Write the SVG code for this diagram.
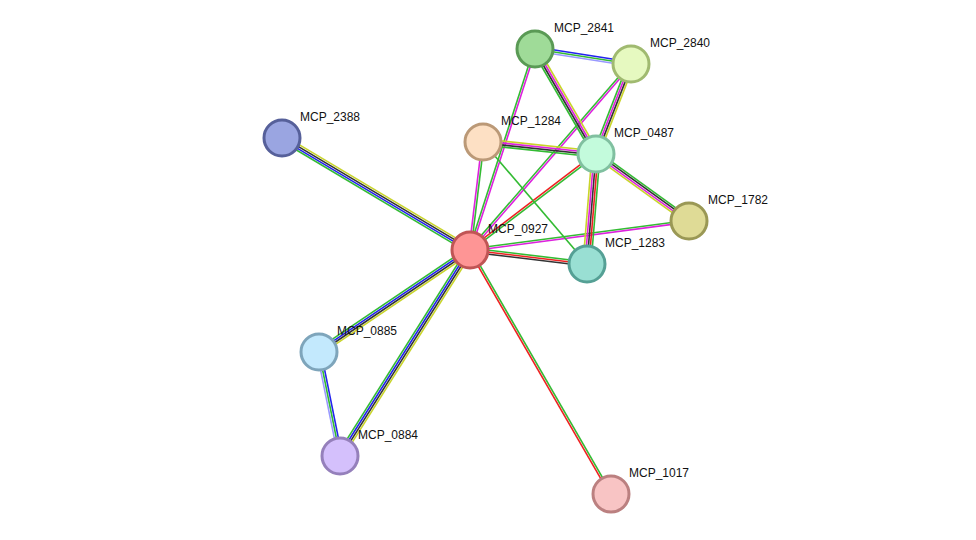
<svg xmlns="http://www.w3.org/2000/svg" width="976" height="540" viewBox="0 0 976 540">
<style>
line{stroke-width:1.6}
.y{stroke:#c8d42a}.k{stroke:#333}.b{stroke:#2222ee}.g{stroke:#33bb33}.r{stroke:#ee2222}.m{stroke:#dd22dd}.lb{stroke:#9999ff}
circle{stroke-width:3}
text{font-family:"Liberation Sans",Arial,sans-serif;font-size:12px;fill:#111}
</style>
<rect width="976" height="540" fill="#fff"/>
<g id="connectors">
<g transform="translate(470,250) rotate(210.8)"><line x2="218.8" y1="-3" y2="-3" class="g"/><line x2="218.8" y1="-1" y2="-1" class="b"/><line x2="218.8" y1="1" y2="1" class="k"/><line x2="218.8" y1="3" y2="3" class="y"/></g>
<g transform="translate(470,250) rotate(146)"><line x2="182.2" y1="-3" y2="-3" class="y"/><line x2="182.2" y1="-1" y2="-1" class="k"/><line x2="182.2" y1="1" y2="1" class="b"/><line x2="182.2" y1="3" y2="3" class="g"/></g>
<g transform="translate(470,250) rotate(122.25)"><line x2="243.6" y1="-3" y2="-3" class="y"/><line x2="243.6" y1="-1" y2="-1" class="k"/><line x2="243.6" y1="1" y2="1" class="b"/><line x2="243.6" y1="3" y2="3" class="g"/></g>
<g transform="translate(319,352) rotate(78.6)"><line x2="106.1" y1="-2" y2="-2" class="b"/><line x2="106.1" class="g"/><line x2="106.1" y1="2" y2="2" class="lb"/></g>
<g transform="translate(470,250) rotate(60)"><line x2="281.8" y1="-1" y2="-1" class="g"/><line x2="281.8" y1="1" y2="1" class="r"/></g>
<g transform="translate(470,250) rotate(6.8)"><line x2="117.8" y1="-2" y2="-2" class="g"/><line x2="117.8" class="r"/><line x2="117.8" y1="2" y2="2" class="k"/></g>
<g transform="translate(470,250) rotate(-7.5)"><line x2="220.9" y1="-1" y2="-1" class="g"/><line x2="220.9" y1="1" y2="1" class="m"/></g>
<g transform="translate(470,250) rotate(-37.3)"><line x2="158.4" y1="-1" y2="-1" class="r"/><line x2="158.4" y1="1" y2="1" class="g"/></g>
<g transform="translate(470,250) rotate(-49.1)"><line x2="246" y1="-1" y2="-1" class="g"/><line x2="246" y1="1" y2="1" class="m"/></g>
<g transform="translate(470,250) rotate(-72.1)"><line x2="211.2" y1="-1" y2="-1" class="g"/><line x2="211.2" y1="1" y2="1" class="m"/></g>
<g transform="translate(470,250) rotate(-83.1)"><line x2="108.8" y1="-1" y2="-1" class="m"/><line x2="108.8" y1="1" y2="1" class="g"/></g>
<g transform="translate(483,142) rotate(49.55)"><line x2="160.3" class="g"/></g>
<g transform="translate(483,142) rotate(6.06)"><line x2="113.6" y1="-3" y2="-3" class="y"/><line x2="113.6" y1="-1" y2="-1" class="m"/><line x2="113.6" y1="1" y2="1" class="k"/><line x2="113.6" y1="3" y2="3" class="g"/></g>
<g transform="translate(535,49) rotate(8.9)"><line x2="97.2" y1="-2" y2="-2" class="b"/><line x2="97.2" class="g"/><line x2="97.2" y1="2" y2="2" class="lb"/></g>
<g transform="translate(535,49) rotate(59.85)"><line x2="121.4" y1="-3" y2="-3" class="y"/><line x2="121.4" y1="-1" y2="-1" class="m"/><line x2="121.4" y1="1" y2="1" class="k"/><line x2="121.4" y1="3" y2="3" class="g"/></g>
<g transform="translate(631,64) rotate(111.25)"><line x2="96.6" y1="-3" y2="-3" class="y"/><line x2="96.6" y1="-1" y2="-1" class="k"/><line x2="96.6" y1="1" y2="1" class="m"/><line x2="96.6" y1="3" y2="3" class="g"/></g>
<g transform="translate(596,154) rotate(35.8)"><line x2="114.6" y1="-3" y2="-3" class="g"/><line x2="114.6" y1="-1" y2="-1" class="k"/><line x2="114.6" y1="1" y2="1" class="m"/><line x2="114.6" y1="3" y2="3" class="y"/></g>
<g transform="translate(596,154) rotate(94.7)"><line x2="110.4" y1="-4" y2="-4" class="g"/><line x2="110.4" y1="-2" y2="-2" class="r"/><line x2="110.4" class="k"/><line x2="110.4" y1="2" y2="2" class="m"/><line x2="110.4" y1="4" y2="4" class="y"/></g>
</g>
<g id="MCP_0927"><circle cx="470" cy="250" r="18" fill="#fe9595" stroke="#c05555"/><text x="488" y="233">MCP_0927</text></g>
<g id="MCP_2841"><circle cx="535" cy="49" r="18" fill="#9fdb98" stroke="#5a9a55"/><text x="554" y="32">MCP_2841</text></g>
<g id="MCP_2840"><circle cx="631" cy="64" r="18" fill="#e6f9c0" stroke="#a0ba70"/><text x="650" y="47">MCP_2840</text></g>
<g id="MCP_1284"><circle cx="483" cy="142" r="18" fill="#fde0c4" stroke="#bb9977"/><text x="501" y="125">MCP_1284</text></g>
<g id="MCP_0487"><circle cx="596" cy="154" r="18" fill="#c3fbdc" stroke="#80c0a0"/><text x="614" y="137">MCP_0487</text></g>
<g id="MCP_1782"><circle cx="689" cy="221" r="18" fill="#dfdb96" stroke="#9a9855"/><text x="708" y="204">MCP_1782</text></g>
<g id="MCP_1283"><circle cx="587" cy="264" r="18" fill="#99dfd3" stroke="#55a095"/><text x="605" y="247">MCP_1283</text></g>
<g id="MCP_2388"><circle cx="282" cy="138" r="18" fill="#9aa5e1" stroke="#56609a"/><text x="300" y="121">MCP_2388</text></g>
<g id="MCP_0885"><circle cx="319" cy="352" r="18" fill="#c3e9fd" stroke="#7ea5bb"/><text x="337" y="335">MCP_0885</text></g>
<g id="MCP_0884"><circle cx="340" cy="456" r="18" fill="#d4c0fc" stroke="#9580bb"/><text x="358" y="439">MCP_0884</text></g>
<g id="MCP_1017"><circle cx="611" cy="494" r="18" fill="#f8c4c4" stroke="#bb8080"/><text x="629" y="477">MCP_1017</text></g>
</svg>
